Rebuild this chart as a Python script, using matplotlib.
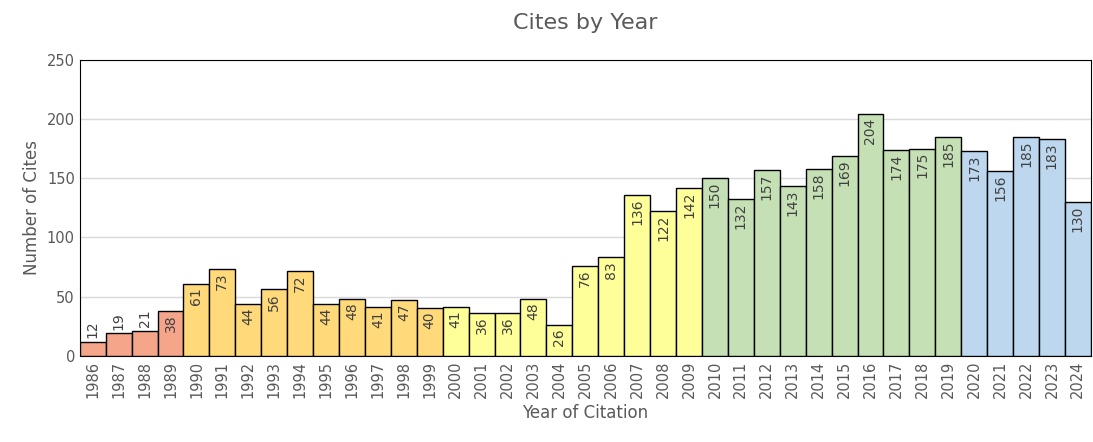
import matplotlib.pyplot as plt

years = list(range(1986, 2025))
cites = [12, 19, 21, 38, 61, 73, 44, 56, 72, 44, 48, 41, 47, 40, 41, 36, 36, 48, 26,
         76, 83, 136, 122, 142, 150, 132, 157, 143, 158, 169, 204, 174, 175, 185,
         173, 156, 185, 183, 130]


def color_for(y):
    if y < 1990:
        return '#F4A58A'
    if y < 2000:
        return '#FFD97A'
    if y < 2010:
        return '#FFFF99'
    if y < 2020:
        return '#C5E0B4'
    return '#BDD7EE'


colors = [color_for(y) for y in years]
txt = '#595959'

fig = plt.figure(figsize=(10.93, 4.42), dpi=100)
ax = fig.add_axes([0.073, 0.195, 0.925, 0.67])
x = list(range(len(years)))
ax.bar(x, cites, width=1.0, color=colors, edgecolor='black', linewidth=1, zorder=3)
for i, v in enumerate(cites):
    if v < 25:
        ax.text(i, v + 3, str(v), rotation=90, ha='center', va='bottom', fontsize=10, color='#404040', zorder=4)
    else:
        ax.text(i, v - 3, str(v), rotation=90, ha='center', va='top', fontsize=10, color='#404040', zorder=4)

ax.set_xlim(-0.5, len(years) - 0.5)
ax.set_ylim(0, 250)
ax.set_yticks(range(0, 251, 50))
ax.set_xticks(x)
ax.set_xticklabels([str(y) for y in years], rotation=90)
ax.tick_params(axis='both', colors=txt, labelsize=10.5, length=0)
ax.grid(axis='y', color='#D9D9D9', linewidth=1, zorder=0)
for s in ax.spines.values():
    s.set_color('black')
ax.set_title('Cites by Year', fontsize=16, color=txt, pad=22)
ax.set_xlabel('Year of Citation', fontsize=12, color=txt)
ax.set_ylabel('Number of Cites', fontsize=12, color=txt)

plt.savefig('out.png', dpi=100)
